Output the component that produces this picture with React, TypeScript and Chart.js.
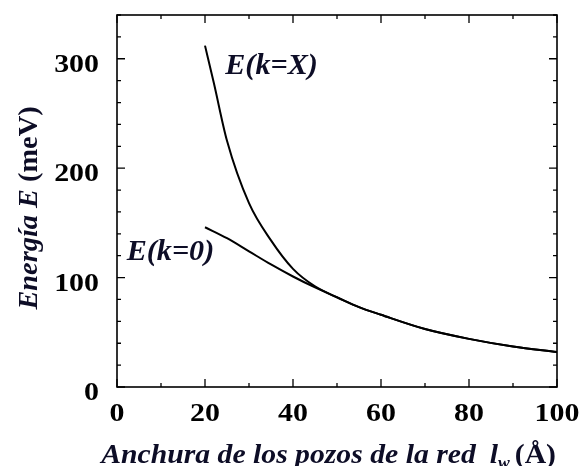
import React, { useEffect, useRef } from "react";
import { Chart, registerables } from "chart.js";

Chart.register(...registerables);

const widthsX: number[] = [20, 22, 25, 30, 35, 40, 45, 50, 55, 60, 70, 80, 90, 100];
const energyKX: number[] = [312, 278, 225, 168, 134, 108, 92, 82, 73, 66, 53, 44, 37, 32];
const widths0: number[] = [20, 25, 30, 35, 40, 45, 50, 55, 60, 70, 80, 90, 100];
const energyK0: number[] = [146, 136, 124, 112, 101, 91, 82, 73, 66, 53, 44, 37, 32];

const xTickValues: number[] = [0, 20, 40, 60, 80, 100];
const yTickValues: number[] = [0, 100, 200, 300];
const curveLabels: string[] = ["E(k=X)", "E(k=0)"];

const SERIF = '"Liberation Serif", "Times New Roman", serif';
const INK = "#0d0d26";

function stretchedText(ctx: any, text: string, x: number, y: number, font: string, sx: number, align: string) {
  ctx.save();
  ctx.font = font;
  const w = ctx.measureText(text).width * sx;
  let x0 = x;
  if (align === "center") x0 = x - w / 2;
  else if (align === "right") x0 = x - w;
  ctx.translate(x0, y);
  ctx.scale(sx, 1);
  ctx.textAlign = "left";
  ctx.fillText(text, 0, 0);
  ctx.restore();
  return w;
}

const framePlugin = {
  id: "frameTicks",
  afterDraw(chart: any) {
    const ctx = chart.ctx;
    const { left, right, top, bottom } = chart.chartArea;
    const xs = chart.scales.x;
    const ys = chart.scales.y;
    ctx.save();
    ctx.strokeStyle = "#000";
    ctx.lineWidth = 1.6;
    ctx.strokeRect(left, top, right - left, bottom - top);
    ctx.lineWidth = 1.3;
    for (let v = 0; v <= 100; v += 10) {
      const major = v % 20 === 0;
      const len = major ? 8 : 4;
      const px = xs.getPixelForValue(v);
      ctx.beginPath();
      ctx.moveTo(px, bottom);
      ctx.lineTo(px, bottom - len);
      ctx.moveTo(px, top);
      ctx.lineTo(px, top + len);
      ctx.stroke();
    }
    for (let v = 0; v <= 340; v += 20) {
      const major = v % 100 === 0;
      const len = major ? 8 : 4;
      const py = ys.getPixelForValue(v);
      ctx.beginPath();
      ctx.moveTo(left, py);
      ctx.lineTo(left + len, py);
      ctx.moveTo(right, py);
      ctx.lineTo(right - len, py);
      ctx.stroke();
    }

    // tick labels
    ctx.fillStyle = "#000";
    ctx.textBaseline = "alphabetic";
    const tf = `bold 26px ${SERIF}`;
    xTickValues.forEach((v) => {
      stretchedText(ctx, String(v), xs.getPixelForValue(v), 421, tf, 1.15, "center");
    });
    yTickValues.forEach((v) => {
      stretchedText(ctx, String(v), 99, ys.getPixelForValue(v) + 13, tf, 1.15, "right");
    });

    // curve labels
    ctx.fillStyle = INK;
    const lf = `bold italic 29px ${SERIF}`;
    stretchedText(ctx, curveLabels[0], xs.getPixelForValue(24.6), ys.getPixelForValue(286), lf, 1.04, "left");
    stretchedText(ctx, curveLabels[1], xs.getPixelForValue(2.2), ys.getPixelForValue(116), lf, 1.04, "left");

    // x title
    const baseY = 463;
    const fs = 27;
    const f1 = `bold italic ${fs}px ${SERIF}`;
    const f2 = `bold ${fs}px ${SERIF}`;
    const fsub = `bold italic ${Math.round(fs * 0.6)}px ${SERIF}`;
    const p1 = "Anchura de los pozos de la red";
    const p2 = "l";
    const p3 = "w";
    const p4 = "(Å)";
    const sx = 1.1;
    ctx.font = f1;
    const w1 = ctx.measureText(p1).width * sx;
    const gap = 14;
    const w2 = ctx.measureText(p2).width * sx;
    ctx.font = fsub;
    const w3 = ctx.measureText(p3).width * sx;
    ctx.font = f2;
    const w4 = ctx.measureText(p4).width * sx;
    const total = w1 + gap + w2 + w3 + 5 + w4;
    let x = 556 - total;
    stretchedText(ctx, p1, x, baseY, f1, sx, "left");
    x += w1 + gap;
    stretchedText(ctx, p2, x, baseY, f1, sx, "left");
    x += w2;
    stretchedText(ctx, p3, x, baseY + 5, fsub, sx, "left");
    x += w3 + 5;
    stretchedText(ctx, p4, x, baseY, f2, sx, "left");

    // y title
    ctx.save();
    ctx.translate(37, 208);
    ctx.rotate(-Math.PI / 2);
    const q1 = "Energía E ";
    const q2 = "(meV)";
    const ysx = 1.05;
    ctx.font = f1;
    const wq1 = ctx.measureText(q1).width * ysx;
    ctx.font = f2;
    const wq2 = ctx.measureText(q2).width * ysx;
    let qx = -(wq1 + wq2) / 2;
    stretchedText(ctx, q1, qx, 0, f1, ysx, "left");
    qx += wq1;
    stretchedText(ctx, q2, qx, 0, f2, ysx, "left");
    ctx.restore();

    ctx.restore();
  },
};

export default function App() {
  const ref = useRef<HTMLCanvasElement | null>(null);
  useEffect(() => {
    if (!ref.current) return;
    const zeroPad = (s: any) => {
      s.paddingLeft = 0;
      s.paddingRight = 0;
      s.paddingTop = 0;
      s.paddingBottom = 0;
    };
    const chart = new Chart(ref.current, {
      type: "line",
      data: {
        datasets: [
          {
            label: curveLabels[0],
            data: widthsX.map((w, i) => ({ x: w, y: energyKX[i] })),
            borderColor: "#000",
            borderWidth: 2,
            pointRadius: 0,
            cubicInterpolationMode: "monotone",
            fill: false,
          },
          {
            label: curveLabels[1],
            data: widths0.map((w, i) => ({ x: w, y: energyK0[i] })),
            borderColor: "#000",
            borderWidth: 2,
            pointRadius: 0,
            cubicInterpolationMode: "monotone",
            fill: false,
          },
        ],
      },
      options: {
        animation: false,
        responsive: true,
        maintainAspectRatio: false,
        layout: { padding: { top: 15, right: 25, left: 0, bottom: 0 } },
        plugins: { legend: { display: false }, tooltip: { enabled: false } },
        scales: {
          x: {
            type: "linear",
            min: 0,
            max: 100,
            afterFit: (s: any) => {
              s.height = 79;
              zeroPad(s);
            },
            grid: { display: false, drawTicks: false },
            border: { display: false },
            ticks: { display: false },
          },
          y: {
            type: "linear",
            min: 0,
            max: 340,
            afterFit: (s: any) => {
              s.width = 117;
              zeroPad(s);
            },
            grid: { display: false, drawTicks: false },
            border: { display: false },
            ticks: { display: false },
          },
        },
      },
      plugins: [framePlugin],
    } as any);
    return () => chart.destroy();
  }, []);
  return (
    <div style={{ position: "fixed", left: 0, top: 0, width: 582, height: 466, background: "#fff" }}>
      <canvas ref={ref} />
    </div>
  );
}
